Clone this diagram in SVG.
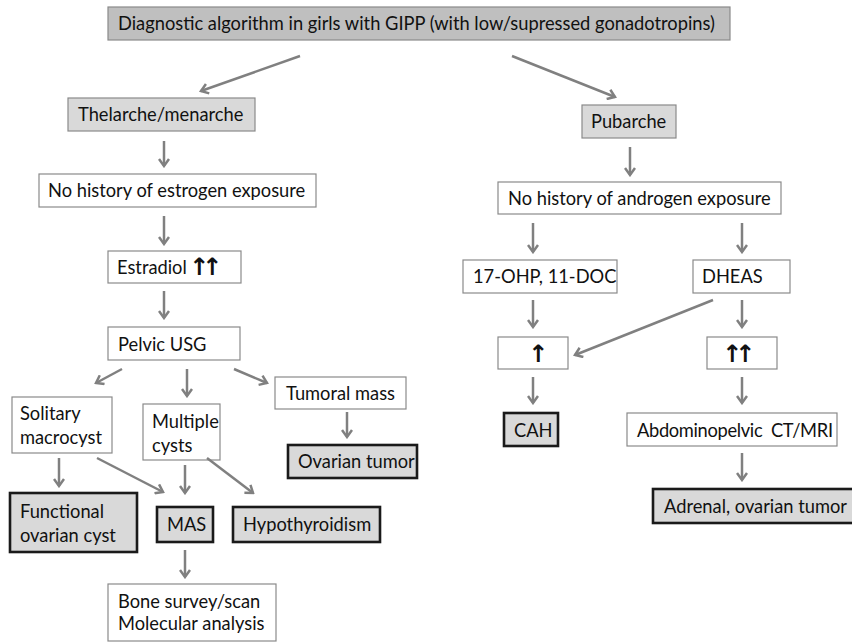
<svg xmlns="http://www.w3.org/2000/svg" width="852" height="643" viewBox="0 0 852 643">
<style>
text{font-family:Lato,"Open Sans","Liberation Sans",sans-serif;font-size:18.3px;fill:#111;white-space:pre}
.b{fill:#fff;stroke:#8a8a8a;stroke-width:1.2}
.g{fill:#d9d9d9;stroke:#8a8a8a;stroke-width:1.2}
.t{fill:#bfbfbf;stroke:#8a8a8a;stroke-width:1.2}
.k{fill:#d9d9d9;stroke:#1a1a1a;stroke-width:2.6}
.ar{font-family:"DejaVu Sans",sans-serif;font-weight:bold;font-size:24px;letter-spacing:-7px}
#connectors line{stroke:#808080;stroke-width:2.5;marker-end:url(#ah)}
</style>
<defs>
<marker id="ah" viewBox="0 0 10 12" refX="8" refY="6" markerWidth="10" markerHeight="12" markerUnits="userSpaceOnUse" orient="auto">
<path d="M1,1 L8,6 L1,11" fill="none" stroke="#808080" stroke-width="2.5"/>
</marker>
</defs>
<rect width="852" height="643" fill="#fff"/>
<g id="top"><rect class="t" x="108" y="7" width="622" height="33"/><text x="118" y="30">Diagnostic algorithm in girls with GIPP (with low/supressed gonadotropins)</text></g>
<g id="thelarche"><rect class="g" x="68" y="98" width="187" height="33"/><text x="78" y="121">Thelarche/menarche</text></g>
<g id="noestrogen"><rect class="b" x="39" y="174" width="277" height="33"/><text x="48" y="197">No history of estrogen exposure</text></g>
<g id="estradiol"><rect class="b" x="108" y="251" width="133" height="32"/><text x="117" y="274">Estradiol</text><text class="ar" x="189" y="275">↑↑</text></g>
<g id="pelvic"><rect class="b" x="108" y="327" width="132" height="33"/><text x="118" y="351">Pelvic USG</text></g>
<g id="solitary"><rect class="b" x="12" y="397" width="100" height="56"/><text x="20" y="420">Solitary</text><text x="20" y="444">macrocyst</text></g>
<g id="multiple"><rect class="b" x="143" y="404" width="77" height="56"/><text x="152" y="428">Multiple</text><text x="152" y="452">cysts</text></g>
<g id="tumoral"><rect class="b" x="275" y="377" width="131" height="32"/><text x="286" y="400">Tumoral mass</text></g>
<g id="ovariantumor"><rect class="k" x="288" y="445" width="129" height="33"/><text x="298" y="468">Ovarian tumor</text></g>
<g id="functional"><rect class="k" x="10" y="493" width="127" height="59"/><text x="20" y="518">Functional</text><text x="20" y="542">ovarian cyst</text></g>
<g id="mas"><rect class="k" x="157" y="507" width="56" height="35"/><text x="167" y="531">MAS</text></g>
<g id="hypo"><rect class="k" x="233" y="507" width="147" height="35"/><text x="243" y="531">Hypothyroidism</text></g>
<g id="bone"><rect class="b" x="108" y="584" width="168" height="57"/><text x="118" y="608">Bone survey/scan</text><text x="118" y="630">Molecular analysis</text></g>
<g id="pubarche"><rect class="g" x="582" y="105" width="94" height="33"/><text x="591" y="128">Pubarche</text></g>
<g id="noandrogen"><rect class="b" x="498" y="182" width="283" height="32"/><text x="508" y="205">No history of androgen exposure</text></g>
<g id="ohp"><rect class="b" x="463" y="260" width="154" height="33"/><text x="473" y="283">17-OHP, 11-DOC</text></g>
<g id="dheas"><rect class="b" x="693" y="260" width="97" height="33"/><text x="702" y="283">DHEAS</text></g>
<g id="up1"><rect class="b" x="498" y="337" width="70" height="32"/><text class="ar" x="538" y="362" text-anchor="middle" style="letter-spacing:0">↑</text></g>
<g id="up2"><rect class="b" x="707" y="337" width="70" height="32"/><text class="ar" x="722" y="362">↑↑</text></g>
<g id="cah"><rect class="k" x="504" y="413" width="54" height="33"/><text x="514" y="437">CAH</text></g>
<g id="ct"><rect class="b" x="627" y="413" width="210" height="33"/><text x="637" y="437" textLength="196" lengthAdjust="spacing">Abdominopelvic  CT/MRI</text></g>
<g id="adrenal"><rect class="k" x="653" y="489" width="203" height="34"/><text x="664" y="513">Adrenal, ovarian tumor</text></g>
<g id="connectors">
<line x1="300" y1="56" x2="201" y2="91"/>
<line x1="512" y1="56" x2="615" y2="97"/>
<line x1="164" y1="141" x2="164" y2="166"/>
<line x1="164" y1="216" x2="164" y2="244"/>
<line x1="164" y1="291" x2="164" y2="318"/>
<line x1="122" y1="369" x2="96" y2="383"/>
<line x1="187" y1="369" x2="187" y2="396"/>
<line x1="234" y1="369" x2="267" y2="383"/>
<line x1="347" y1="412" x2="347" y2="437"/>
<line x1="59" y1="458" x2="59" y2="486"/>
<line x1="97" y1="458" x2="163" y2="492"/>
<line x1="185" y1="465" x2="185" y2="493"/>
<line x1="207" y1="458" x2="253" y2="493"/>
<line x1="185" y1="550" x2="185" y2="577"/>
<line x1="630" y1="147" x2="630" y2="175"/>
<line x1="533" y1="223" x2="533" y2="252"/>
<line x1="742" y1="223" x2="742" y2="252"/>
<line x1="533" y1="300" x2="533" y2="327"/>
<line x1="742" y1="300" x2="742" y2="327"/>
<line x1="713" y1="300" x2="575" y2="355"/>
<line x1="533" y1="377" x2="533" y2="403"/>
<line x1="742" y1="377" x2="742" y2="403"/>
<line x1="742" y1="453" x2="742" y2="480"/>
</g>
</svg>
